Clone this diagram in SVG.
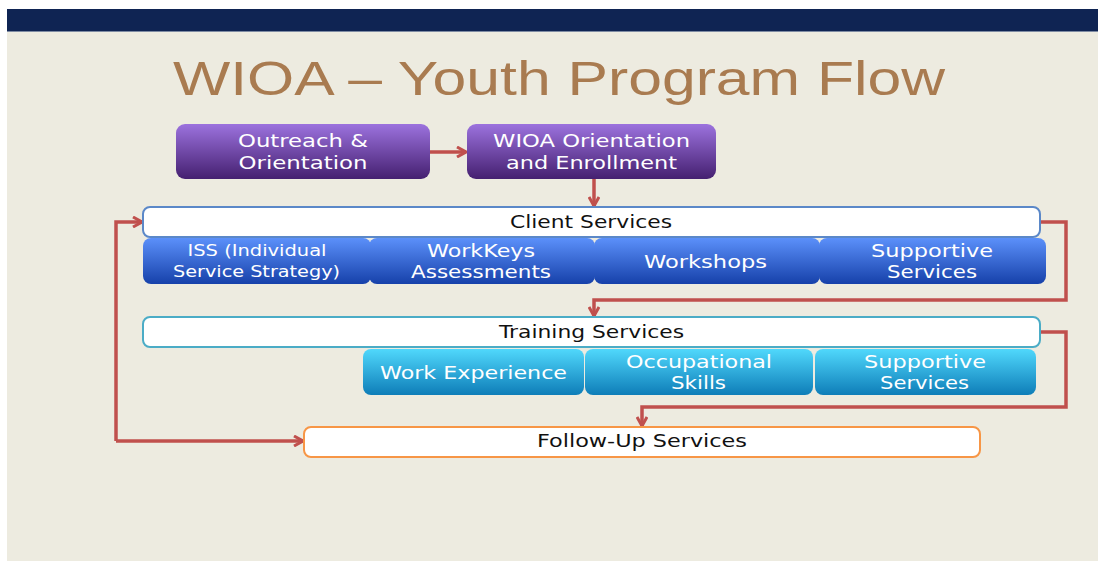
<svg xmlns="http://www.w3.org/2000/svg" width="1098" height="561" viewBox="0 0 1098 561">
  <defs>
    <linearGradient id="gPurple" x1="0" y1="0" x2="0" y2="1">
      <stop offset="0" stop-color="#9C72DE"/>
      <stop offset="1" stop-color="#452070"/>
    </linearGradient>
    <linearGradient id="gBlue" x1="0" y1="0" x2="0" y2="1">
      <stop offset="0" stop-color="#5B90FA"/>
      <stop offset="1" stop-color="#1641AA"/>
    </linearGradient>
    <linearGradient id="gCyan" x1="0" y1="0" x2="0" y2="1">
      <stop offset="0" stop-color="#50D8FC"/>
      <stop offset="1" stop-color="#0E7DB8"/>
    </linearGradient>
    <marker id="arrow" viewBox="0 0 12 12" refX="11" refY="6" markerWidth="12" markerHeight="12" markerUnits="userSpaceOnUse" orient="auto">
      <path d="M2,1 L11,6 L2,11" fill="none" stroke="#C0504D" stroke-width="3" stroke-linejoin="miter"/>
    </marker>
  </defs>
  <style>
    .label { font-family: "DejaVu Sans", Verdana, sans-serif; fill: #FFFFFF; text-anchor: middle; font-size: 17px; }
    .label.small { font-size: 16px; }
    .bar-label { font-family: "DejaVu Sans", Verdana, sans-serif; fill: #111111; text-anchor: middle; font-size: 17px; }
    .bar { fill: #FFFFFF; stroke-width: 2; }
    .conn { fill: none; stroke: #C0504D; stroke-width: 3.5; stroke-linejoin: miter; }
  </style>

  <!-- slide background -->
  <rect x="0" y="0" width="1098" height="561" fill="#FFFFFF"/>
  <rect x="7" y="9" width="1091" height="552" fill="#EDEBE0"/>
  <rect x="7" y="9" width="1091" height="22" fill="#0F2453"/>
  <rect x="7" y="31" width="1091" height="1" fill="#7E8BA3"/>

  <text x="559" y="95" font-family="'Liberation Sans', Arial, sans-serif" font-size="48" fill="#A97B50" text-anchor="middle" textLength="772" lengthAdjust="spacingAndGlyphs">WIOA – Youth Program Flow</text>

  <!-- connectors -->
  <g id="connectors">
    <path class="conn" d="M430,152 L466,152" marker-end="url(#arrow)"/>
    <path class="conn" d="M594,179 L594,206" marker-end="url(#arrow)"/>
    <path class="conn" d="M1040,222 L1066,222 L1066,300 L594,300 L594,316" marker-end="url(#arrow)"/>
    <path class="conn" d="M1040,332 L1066,332 L1066,407 L642,407 L642,426" marker-end="url(#arrow)"/>
    <path class="conn" d="M116,441 L303,441" marker-end="url(#arrow)"/>
    <path class="conn" d="M116,441 L116,222 L142,222" marker-end="url(#arrow)"/>
  </g>

  <!-- entry steps -->
  <g id="outreach">
    <rect x="176" y="124" width="254" height="55" rx="9" fill="url(#gPurple)"/>
    <text class="label" x="303" y="147" textLength="130" lengthAdjust="spacingAndGlyphs">Outreach &amp;</text>
    <text class="label" x="303" y="169" textLength="129" lengthAdjust="spacingAndGlyphs">Orientation</text>
  </g>
  <g id="enrollment">
    <rect x="467" y="124" width="249" height="55" rx="9" fill="url(#gPurple)"/>
    <text class="label" x="591.5" y="147" textLength="197" lengthAdjust="spacingAndGlyphs">WIOA Orientation</text>
    <text class="label" x="591.5" y="169" textLength="171" lengthAdjust="spacingAndGlyphs">and Enrollment</text>
  </g>

  <!-- client services -->
  <g id="client-services">
    <rect class="bar" x="143" y="207" width="897" height="30" rx="7" stroke="#5B88C8"/>
    <text class="bar-label" x="591" y="228" textLength="162" lengthAdjust="spacingAndGlyphs">Client Services</text>
  </g>
  <g id="iss">
    <rect x="143" y="238" width="228" height="46" rx="8" fill="url(#gBlue)"/>
    <text class="label small" x="257" y="256" textLength="139" lengthAdjust="spacingAndGlyphs">ISS (Individual</text>
    <text class="label small" x="256.5" y="277" textLength="167" lengthAdjust="spacingAndGlyphs">Service Strategy)</text>
  </g>
  <g id="workkeys">
    <rect x="369" y="238" width="226" height="46" rx="8" fill="url(#gBlue)"/>
    <text class="label" x="481" y="257" textLength="108" lengthAdjust="spacingAndGlyphs">WorkKeys</text>
    <text class="label" x="481" y="278" textLength="140" lengthAdjust="spacingAndGlyphs">Assessments</text>
  </g>
  <g id="workshops">
    <rect x="594" y="238" width="226" height="46" rx="8" fill="url(#gBlue)"/>
    <text class="label" x="705.5" y="268" textLength="123" lengthAdjust="spacingAndGlyphs">Workshops</text>
  </g>
  <g id="supportive-client">
    <rect x="819" y="238" width="227" height="46" rx="8" fill="url(#gBlue)"/>
    <text class="label" x="932" y="257" textLength="122" lengthAdjust="spacingAndGlyphs">Supportive</text>
    <text class="label" x="932" y="278" textLength="90" lengthAdjust="spacingAndGlyphs">Services</text>
  </g>

  <!-- training services -->
  <g id="training-services">
    <rect class="bar" x="143" y="317" width="897" height="30" rx="7" stroke="#4BACC6"/>
    <text class="bar-label" x="591.5" y="338" textLength="185" lengthAdjust="spacingAndGlyphs">Training Services</text>
  </g>
  <g id="work-experience">
    <rect x="363" y="349" width="221" height="46" rx="8" fill="url(#gCyan)"/>
    <text class="label" x="473.5" y="379" textLength="187" lengthAdjust="spacingAndGlyphs">Work Experience</text>
  </g>
  <g id="occupational-skills">
    <rect x="585" y="349" width="228" height="46" rx="8" fill="url(#gCyan)"/>
    <text class="label" x="699" y="368" textLength="146" lengthAdjust="spacingAndGlyphs">Occupational</text>
    <text class="label" x="698.5" y="389" textLength="55" lengthAdjust="spacingAndGlyphs">Skills</text>
  </g>
  <g id="supportive-training">
    <rect x="815" y="349" width="221" height="46" rx="8" fill="url(#gCyan)"/>
    <text class="label" x="925" y="368" textLength="122" lengthAdjust="spacingAndGlyphs">Supportive</text>
    <text class="label" x="924.5" y="389" textLength="89" lengthAdjust="spacingAndGlyphs">Services</text>
  </g>

  <!-- follow-up -->
  <g id="follow-up">
    <rect class="bar" x="304" y="427" width="676" height="30" rx="7" stroke="#F79646"/>
    <text class="bar-label" x="642" y="447" textLength="210" lengthAdjust="spacingAndGlyphs">Follow-Up Services</text>
  </g>
</svg>
